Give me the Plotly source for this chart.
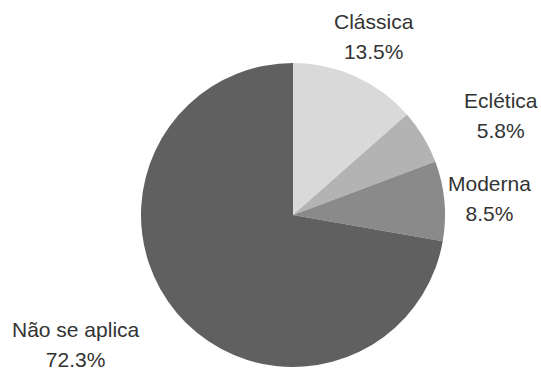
import math
import plotly.graph_objects as go

labels = ["Clássica", "Eclética", "Moderna", "Não se aplica"]
values = [13.5, 5.8, 8.5, 72.3]
colors = ["#d9d9d9", "#b3b3b3", "#8a8a8a", "#606060"]
label_anchor = ["center", "left", "center", "right"]

W, H = 541, 369
cx, cy, r = 293, 215, 152
label_dist = 1.3
font = dict(family="Liberation Sans, Arial, sans-serif", size=23, color="#333333")
text_px = 21

fig = go.Figure(go.Pie(
    labels=labels,
    values=values,
    sort=False,
    direction="clockwise",
    rotation=0,
    marker=dict(colors=colors, line=dict(width=0)),
    textinfo="none",
    hoverinfo="label+percent",
    domain=dict(x=[(cx - r) / W, (cx + r) / W], y=[1 - (cy + r) / H, 1 - (cy - r) / H]),
    showlegend=False,
))

total = sum(values)
cum = 0.0
annotations = []
for lab, v, anc in zip(labels, values, label_anchor):
    mid = (cum + v / 2) / total * 2 * math.pi
    cum += v
    px = cx + label_dist * r * math.sin(mid)
    py = cy - label_dist * r * math.cos(mid)
    txt = (f"<span style='font-size:{text_px}px'>{lab}</span><br>"
           f"<span style='font-size:{text_px}px'>{v:.1f}%</span>")
    annotations.append(dict(
        x=px / W, y=1 - py / H, xref="paper", yref="paper",
        text=txt, showarrow=False, xanchor=anc, yanchor="middle",
        yshift=-2, font=font, align="center",
    ))

fig.update_layout(
    width=W, height=H,
    margin=dict(l=0, r=0, t=0, b=0),
    paper_bgcolor="white",
    plot_bgcolor="white",
    annotations=annotations,
)

fig.write_html("out.html")
